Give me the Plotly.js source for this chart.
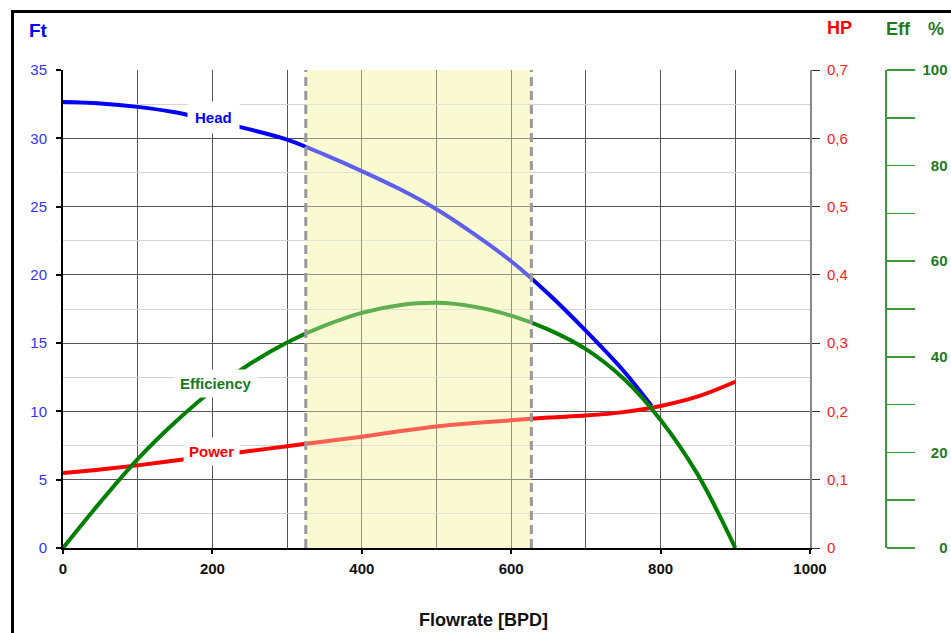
<!DOCTYPE html>
<html>
<head>
<meta charset="utf-8">
<script src="https://cdn.plot.ly/plotly-3.0.1.min.js"></script>
<style>html,body{margin:0;padding:0;background:#fff;}#chart{width:951px;height:633px;}</style>
</head>
<body>
<div id="chart"></div>
<script>
// ---- data ----
const headQ  = [0, 50, 100, 150, 200, 250, 300, 350, 400, 450, 500, 550, 600, 650, 700, 750, 788];
const headFt = [32.65, 32.55, 32.3, 31.9, 31.3, 30.65, 29.9, 28.8, 27.6, 26.3, 24.8, 23.0, 21.0, 18.6, 15.9, 13.0, 10.4];

const effQ   = [0, 50, 100, 150, 200, 250, 300, 350, 400, 450, 500, 550, 600, 650, 700, 750, 800, 850, 900];
const effPct = [0, 9.6, 18.6, 26.3, 33.0, 38.5, 43.0, 46.5, 49.2, 50.8, 51.3, 50.5, 48.6, 45.7, 41.6, 35.5, 26.8, 15.3, 0];

const powQ   = [0, 50, 100, 150, 200, 250, 300, 350, 400, 450, 500, 550, 600, 650, 700, 750, 800, 850, 900];
const powHP  = [0.110, 0.115, 0.121, 0.128, 0.135, 0.142, 0.149, 0.156, 0.163, 0.171, 0.178, 0.183, 0.187, 0.191, 0.194, 0.199, 0.208, 0.222, 0.2435];

const rangeQ = [325, 627];   // recommended operating range

const xTickVals = [0, 200, 400, 600, 800, 1000];
const xTickText = ['0', '200', '400', '600', '800', '1000'];
const ftTickVals = [0, 5, 10, 15, 20, 25, 30, 35];
const ftTickText = ['0', '5', '10', '15', '20', '25', '30', '35'];
const hpTickVals = [0, 0.1, 0.2, 0.3, 0.4, 0.5, 0.6, 0.7];
const hpTickText = ['0', '0,1', '0,2', '0,3', '0,4', '0,5', '0,6', '0,7'];
const effTickVals = [0, 10, 20, 30, 40, 50, 60, 70, 80, 90, 100];
const effTickText = ['\u2007\u20070', '', '\u200720', '', '\u200740', '', '\u200760', '', '\u200780', '', '100'];

// ---- layout helpers ----
const W = 951, H = 633, ML = 63, MR = 5, MT = 70, MB = 85;
const PW = W - ML - MR, PH = H - MT - MB;
const px = p => (p - ML) / PW;
const py = p => (H - MB - p) / PH;
const FONT = 'Liberation Sans, Arial, sans-serif';

const traces = [
  {x: headQ, y: headFt, type: 'scatter', mode: 'lines', line: {color: '#0000ff', width: 4, shape: 'spline'}, yaxis: 'y', hoverinfo: 'none', name: 'Head'},
  {x: effQ, y: effPct, type: 'scatter', mode: 'lines', line: {color: '#008000', width: 4, shape: 'spline'}, yaxis: 'y3', hoverinfo: 'none', name: 'Efficiency'},
  {x: powQ, y: powHP, type: 'scatter', mode: 'lines', line: {color: '#ff0000', width: 4, shape: 'spline'}, yaxis: 'y2', hoverinfo: 'none', name: 'Power'}
];

function ann(text, x, y, size, color) {
  return {text: text, x: px(x), y: py(y), xref: 'paper', yref: 'paper', xanchor: 'center', yanchor: 'middle',
          showarrow: false, font: {family: FONT, size: size, color: color, weight: 'bold'}};
}

const layout = {
  width: W, height: H,
  margin: {l: ML, r: MR, t: MT, b: MB, pad: 0},
  paper_bgcolor: '#ffffff', plot_bgcolor: '#ffffff',
  showlegend: false,
  font: {family: FONT, size: 14},
  xaxis: {
    domain: [0, 747 / PW], range: [0, 1000], tickmode: 'array', tickvals: xTickVals, ticktext: xTickText,
    showline: true, linecolor: '#000', linewidth: 2, ticks: 'outside', ticklen: 4, tickwidth: 2, tickcolor: '#000',
    showgrid: true, gridcolor: '#555555', gridwidth: 1,
    minor: {dtick: 100, tick0: 0, showgrid: true, gridcolor: '#555555', gridwidth: 1, ticks: ''},
    ticklabelstandoff: 2,
    tickfont: {family: FONT, size: 15, color: '#111', weight: 'bold'}, zeroline: false, fixedrange: true
  },
  yaxis: {
    range: [0, 35], tickmode: 'array', tickvals: ftTickVals, ticktext: ftTickText,
    showline: true, linecolor: '#000', linewidth: 2, ticks: 'outside', ticklen: 5, tickwidth: 2, tickcolor: '#000',
    showgrid: true, gridcolor: '#555555', gridwidth: 1,
    minor: {dtick: 2.5, tick0: 0, showgrid: true, gridcolor: '#d4d4d4', gridwidth: 1, ticks: ''},
    ticklabelstandoff: 6,
    tickfont: {family: FONT, size: 15, color: '#3333ff'}, zeroline: false, fixedrange: true
  },
  yaxis2: {
    overlaying: 'y', side: 'right', anchor: 'x', range: [0, 0.7], tickmode: 'array', tickvals: hpTickVals, ticktext: hpTickText,
    showline: true, linecolor: '#888888', linewidth: 2, ticks: 'outside', ticklen: 8, tickwidth: 1, tickcolor: '#333',
    ticklabelstandoff: 4,
    showgrid: false, zeroline: false, tickfont: {family: FONT, size: 15, color: '#ff2020'}, fixedrange: true
  },
  yaxis3: {
    overlaying: 'y', side: 'right', anchor: 'free', position: px(885), range: [0, 100],
    tickmode: 'array', tickvals: effTickVals, ticktext: effTickText,
    showline: true, linecolor: '#3a9a3a', linewidth: 1.5, ticks: 'outside', ticklen: 28, tickwidth: 1.5, tickcolor: '#3a9a3a',
    ticklabelstandoff: 5,
    showgrid: false, zeroline: false, tickfont: {family: FONT, size: 15, color: '#1f7a1f', weight: 'bold'}, fixedrange: true
  },
  shapes: [
    {type: 'rect', xref: 'x', yref: 'paper', x0: rangeQ[0], x1: rangeQ[1], y0: 0, y1: 1, fillcolor: '#fbfbd2', line: {width: 0}, layer: 'below'},
    {type: 'rect', xref: 'x', yref: 'paper', x0: rangeQ[0], x1: rangeQ[1], y0: 0, y1: 1, fillcolor: 'rgba(251,251,210,0.38)', line: {width: 0}, layer: 'above'},
    {type: 'line', xref: 'x', yref: 'paper', x0: rangeQ[0], x1: rangeQ[0], y0: 0, y1: 1, line: {color: '#999999', width: 3, dash: '9px,5px'}, layer: 'above'},
    {type: 'line', xref: 'x', yref: 'paper', x0: rangeQ[1], x1: rangeQ[1], y0: 0, y1: 1, line: {color: '#999999', width: 3, dash: '9px,5px'}, layer: 'above'},
    {type: 'path', xref: 'paper', yref: 'paper',
     path: 'M ' + px(12.5) + ',' + py(640) + ' L ' + px(12.5) + ',' + py(11.5) + ' L ' + px(960) + ',' + py(11.5),
     line: {color: '#000', width: 3}, layer: 'above'}
  ],
  annotations: [
    {text: 'Head', x: 202, y: 31.5, xref: 'x', yref: 'y', xanchor: 'center', yanchor: 'middle', showarrow: false, bgcolor: '#ffffff', borderpad: 7,
     font: {family: FONT, size: 15, color: '#0000ff', weight: 'bold'}},
    {text: 'Efficiency', x: 205, y: 34.5, xref: 'x', yref: 'y3', xanchor: 'center', yanchor: 'middle', showarrow: false, bgcolor: '#ffffff', borderpad: 5,
     font: {family: FONT, size: 15, color: '#1a7a1a', weight: 'bold'}},
    {text: 'Power', x: 199, y: 0.142, xref: 'x', yref: 'y2', xanchor: 'center', yanchor: 'middle', showarrow: false, bgcolor: '#ffffff', borderpad: 5,
     font: {family: FONT, size: 15, color: '#ff0000', weight: 'bold'}},
    ann('Ft', 38, 30, 19, '#0000ff'),
    ann('HP', 839, 28, 18, '#ff0000'),
    ann('Eff', 898, 29, 18, '#1f7a1f'),
    ann('%', 936, 29, 18, '#1f7a1f'),
    ann('Flowrate [BPD]', 483, 620, 18, '#111')
  ]
};

Plotly.newPlot('chart', traces, layout, {staticPlot: true, displayModeBar: false});
</script>
</body>
</html>
